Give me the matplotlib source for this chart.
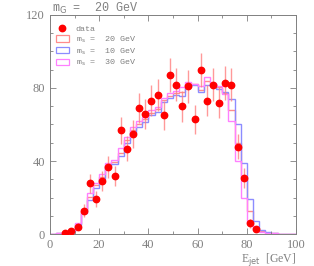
#Program to plot jet energy distribution: data vs three mass hypotheses

import numpy as np
import matplotlib.pyplot as plt
from matplotlib.patches import Patch
from matplotlib.lines import Line2D

# bin edges of the histograms (GeV)
edges = np.arange(0, 100.1, 2.5)

# simulated spectra, one value per 2.5 GeV bin
hist_20 = [0.3, 0.4, 0.9, 1.9, 5.4, 12.6, 20.5, 27.0, 31.5, 38.0,
           39.5, 44.5, 51.5, 57.0, 60.5, 63.0, 66.5, 68.5, 73.4, 75.7,
           77.3, 77.9, 82.0, 82.0, 79.0, 84.0, 82.0, 80.5, 77.5, 68.0,
           50.0, 31.0, 12.8, 3.5, 1.5, 0.8, 0.4, 0.3, 0.2, 0.0]
hist_10 = [0.3, 0.4, 0.8, 1.8, 5.0, 11.7, 18.6, 25.5, 30.0, 37.0,
           38.4, 43.0, 49.7, 55.5, 58.8, 61.5, 65.0, 67.0, 72.5, 74.3,
           76.2, 75.4, 80.7, 81.5, 77.6, 81.5, 82.0, 79.6, 77.8, 74.0,
           60.3, 38.7, 19.2, 7.3, 2.5, 1.0, 0.4, 0.3, 0.1, 0.0]
hist_30 = [0.3, 0.4, 1.0, 2.0, 5.8, 13.5, 22.3, 28.0, 33.0, 39.0,
           40.5, 47.0, 53.0, 58.5, 62.0, 64.3, 68.0, 69.8, 74.3, 77.1,
           78.5, 80.4, 83.5, 82.0, 81.0, 85.8, 82.5, 81.0, 76.9, 62.0,
           40.0, 19.7, 6.0, 2.0, 1.0, 0.6, 0.4, 0.3, 0.2, 0.0]

# measured points
data_x = [6.25, 8.75, 11.25, 13.75, 16.25, 18.75, 21.25, 23.75, 26.25, 28.75,
          31.25, 33.75, 36.25, 38.75, 41.25, 43.75, 46.25, 48.75, 51.25, 53.75,
          56.25, 58.75, 61.25, 63.75, 66.25, 68.75, 71.25, 73.75, 76.25, 78.75,
          81.25, 83.75]
data_y = [0.7, 1.8, 4.0, 12.8, 27.8, 19.0, 28.9, 36.7, 31.8, 56.8,
          46.7, 54.8, 68.9, 65.9, 72.9, 76.0, 65.0, 87.0, 81.8, 70.0,
          80.9, 62.8, 89.9, 72.9, 81.8, 72.0, 82.7, 81.8, 47.8, 30.8,
          5.8, 2.7]
data_err = [0.8, 1.3, 2.0, 3.6, 5.3, 4.4, 5.4, 6.1, 5.6, 7.5,
            6.8, 7.4, 8.3, 8.1, 8.5, 8.7, 8.1, 9.3, 9.0, 8.4,
            9.0, 7.9, 9.5, 8.5, 9.0, 8.5, 9.1, 9.0, 6.9, 5.5,
            2.4, 1.6]

labels = [r'm$_{\rm s}$ =  20 GeV', r'm$_{\rm s}$ =  10 GeV', r'm$_{\rm s}$ =  30 GeV']
colors = ['#ff8c8c', '#8c8cff', '#ff80ff']

gray = '#808080'
serif = 'Liberation Serif'
mono = 'Liberation Mono'

fig = plt.figure(figsize=(3.14, 2.66), dpi=100)
ax = fig.add_axes([0.159, 0.12, 0.784, 0.824])

for h, c in zip([hist_20, hist_10, hist_30], colors):
    ax.stairs(h, edges, color=c, lw=1.0)

ax.errorbar(data_x, data_y, yerr=data_err, fmt='none', ecolor='#ff8080',
            elinewidth=1.0, alpha=0.8, zorder=3)
ax.plot(data_x, data_y, 'o', color='#ff0000', ms=4.6, mec='#ff0000', zorder=4)

ax.set_xlim(0, 100)
ax.set_ylim(0, 120)
ax.set_xticks([0, 20, 40, 60, 80, 100])
ax.set_xticks(np.arange(0, 101, 10), minor=True)
ax.set_yticks([0, 40, 80, 120])
ax.set_yticks(np.arange(0, 121, 10), minor=True)
ax.tick_params(which='both', direction='in', top=True, right=True,
               colors=gray, labelcolor=gray, width=0.6)
ax.tick_params(which='major', length=4)
ax.tick_params(which='minor', length=2)
for lab in ax.get_xticklabels() + ax.get_yticklabels():
    lab.set_fontfamily(serif)
    lab.set_fontsize(9)
for s in ax.spines.values():
    s.set_color(gray)
    s.set_linewidth(0.7)

ax.set_xlabel(r'E$_{\rm jet}$  [GeV]', fontfamily=serif, fontsize=8.5,
              color=gray, ha='right', va='top')
ax.xaxis.set_label_coords(1.0, -0.075)
fig.text(0.165, 0.995, r'm$_{\rm G}$ =  20 GeV', fontfamily=mono,
         fontsize=8.5, color=gray, va='top')

handles = [Line2D([], [], ls='none', marker='o', color='#ff0000', ms=4.6)]
handles += [Patch(facecolor='none', edgecolor=c, lw=0.9) for c in colors]
leg = ax.legend(handles, ['data'] + labels, loc='upper left', frameon=False,
                prop={'family': mono, 'size': 6}, labelcolor=gray,
                handlelength=1.6, handleheight=0.8, handletextpad=0.8,
                labelspacing=0.15, borderaxespad=0.3, bbox_to_anchor=(0.0, 0.98))

fig.savefig('out.png', dpi=100)
